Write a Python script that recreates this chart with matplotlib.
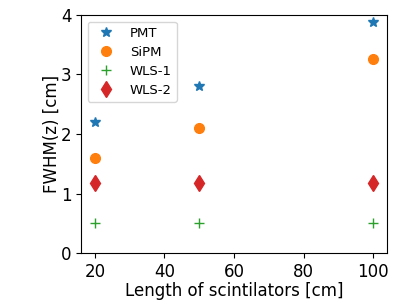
import matplotlib
matplotlib.use('Agg')
import matplotlib.pyplot as plt

# scintillator lengths [cm]
length = [20, 50, 100]

pmt = [2.21, 2.80, 3.88]
sipm = [1.59, 2.10, 3.26]
wls1 = [0.50, 0.50, 0.50]
wls2 = [1.18, 1.18, 1.18]

fig = plt.figure(figsize=(4.07, 3.05), dpi=100)
ax = fig.add_axes([0.199, 0.170, 0.752, 0.781])

ax.plot(length, pmt, '*', color='tab:blue', markersize=7, label='PMT')
ax.plot(length, sipm, 'o', color='tab:orange', markersize=7, label='SiPM')
ax.plot(length, wls1, '+', color='tab:green', markersize=7, label='WLS-1')
ax.plot(length, wls2, 'd', color='tab:red', markersize=8.5, label='WLS-2')

ax.set_ylim(0, 4)
ax.set_yticks([0, 1, 2, 3, 4])
ax.set_xticks([20, 40, 60, 80, 100])
ax.tick_params(labelsize=12)
ax.set_xlabel('Length of scintilators [cm]', fontsize=12, labelpad=1)
ax.set_ylabel('FWHM(z) [cm]', fontsize=12, labelpad=0)
ax.legend(loc='upper left', fontsize=9.5, labelspacing=0.45)

plt.savefig('out.png', dpi=100)
